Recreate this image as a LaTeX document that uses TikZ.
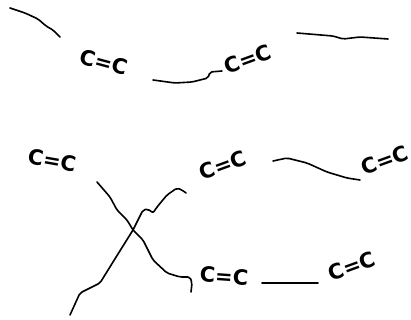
\documentclass[tikz,border=0pt]{standalone}
\usepackage{fontspec}
\setsansfont{DejaVu Sans}
\begin{document}
\begin{tikzpicture}[x=1pt, y=-1pt,
  every node/.style={font=\sffamily\bfseries\fontsize{21}{21}\selectfont, inner sep=0pt},
  chain/.style={line width=1.6pt, line join=round, line cap=round, rounded corners=2pt}]
  \useasboundingbox (0,0) rectangle (411,320);

  % upper strand
  \node[rotate=-15] (c1) at (104,62) {C=C};
  \node[rotate=20] (c2) at (248,59) {C=C};
  \coordinate (u0) at (10,8);
  \coordinate (u1) at (60,37);
  \coordinate (u2) at (153,80);
  \coordinate (u3) at (222,71);
  \coordinate (u4) at (297,33);
  \coordinate (u5) at (388,39);
  \draw[chain] (u0) -- (25,13) -- (38,19) -- (46,26) -- (53,30) -- (u1);
  \draw[chain] (u2) -- (175,83) -- (192,82) -- (200,80) -- (208,78) -- (210,72) -- (u3);
  \draw[chain] (u4) -- (333,36) -- (343,39) -- (360,37) -- (u5);

  % lower strands, crossing
  \node[rotate=-10] (c3) at (52,160) {C=C};
  \node[rotate=20] (c4) at (223,165) {C=C};
  \node[rotate=20] (c5) at (385,160) {C=C};
  \node[rotate=-4] (c6) at (224,276) {C=C};
  \node[rotate=20] (c7) at (352,266) {C=C};
  \coordinate (x) at (133,230);
  \coordinate (a0) at (97,182);
  \coordinate (a1) at (191,292);
  \coordinate (b0) at (70,315);
  \coordinate (b1) at (186,193);
  \draw[chain] (a0) -- (110,197) -- (117,210) -- (127,220) -- (x) -- (143,240) -- (153,260)
    -- (167,273) -- (180,277) -- (190,277) -- (192,283) -- (a1);
  \draw[chain] (b0) -- (80,293) -- (100,283) -- (113,262) -- (x) -- (143,210) -- (148,209)
    -- (153,213) -- (157,207) -- (167,195) -- (177,188) -- (182,190) -- (b1);

  % right side links
  \coordinate (m0) at (273,161);
  \coordinate (m1) at (360,180);
  \draw[chain] (m0) -- (287,158) -- (307,163) -- (327,172) -- (347,178) -- (m1);
  \coordinate (l0) at (262,283);
  \coordinate (l1) at (318,283);
  \draw[chain] (l0) -- (l1);
\end{tikzpicture}
\end{document}
